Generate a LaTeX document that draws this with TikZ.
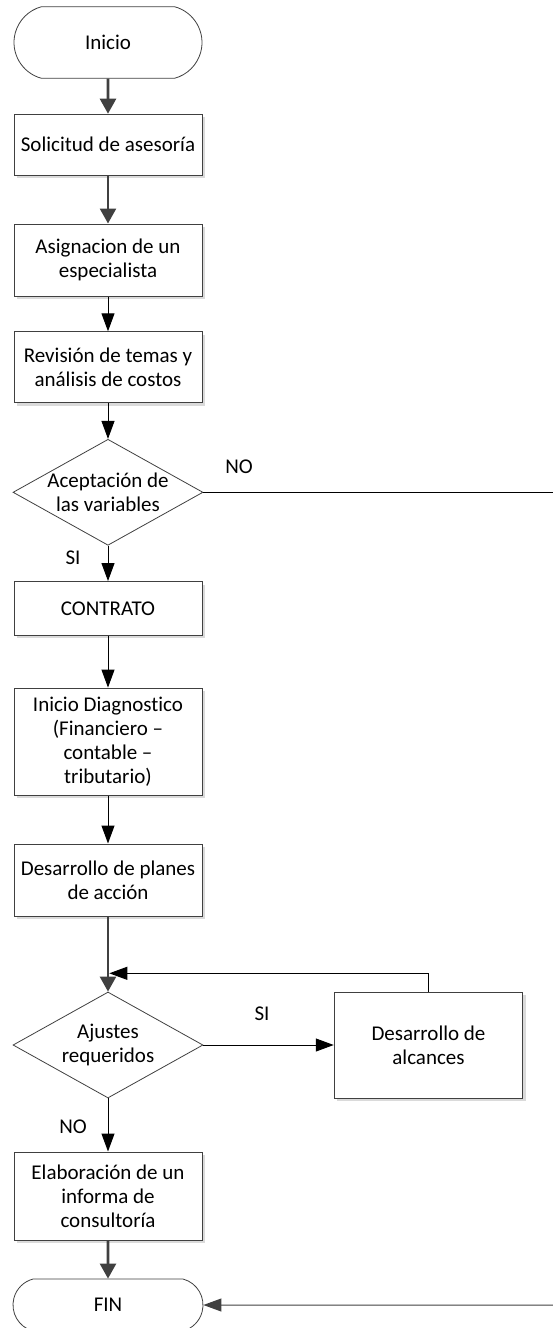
\documentclass[tikz,border=0pt]{standalone}
\usepackage{fontspec}
\setmainfont{Carlito}[Ligatures={TeX,CommonOff}]
\usetikzlibrary{arrows.meta,shapes.geometric,shapes.misc,shadows}
\definecolor{linegray}{RGB}{64,64,64}
\definecolor{shadowgray}{RGB}{218,218,218}

\begin{document}
\begin{tikzpicture}[x=1pt,y=-1pt,
    font=\fontsize{21}{24}\selectfont,
    box/.style={draw=linegray,line width=1pt,fill=white,minimum width=188pt,
      align=center,inner sep=0pt,
      drop shadow={shadow xshift=3pt,shadow yshift=-3pt,fill=shadowgray,opacity=1}},
    term/.style={rounded rectangle,rounded rectangle arc length=150,draw=linegray,
      line width=0.8pt,fill=white,minimum width=188pt,inner sep=0pt},
    decision/.style={diamond,draw=linegray,line width=0.8pt,fill=white,
      minimum width=190pt,minimum height=106pt,inner sep=0pt},
    flow/.style={-{Triangle[length=18pt,width=13pt]},line width=1pt},
    bigflow/.style={-{Triangle[length=15pt,width=16pt]},line width=2.6pt,draw=linegray,fill=linegray},
  ]
  \useasboundingbox (0,0) rectangle (553,1328);

  \node[term,minimum height=71.6pt] (inicio) at (108,42.5) {Inicio};
  \node[box,minimum height=61pt] (solicitud) at (108,144.7) {Solicitud de asesoría};
  \node[box,minimum height=72pt] (asignacion) at (108,260) {Asignacion de un\\especialista};
  \node[box,minimum height=71pt] (revision) at (108,367.3) {Revisión de temas y\\análisis de costos};
  \node[decision] (dec1) at (108,492.3) {};
  \node[align=center] (dec1t) at (dec1) {Aceptación de\\las variables};
  \node[box,minimum height=53.5pt] (contrato) at (108,608.3) {CONTRATO};
  \node[box,minimum height=107pt] (diag) at (108,741.6) {Inicio Diagnostico\\(Financiero –\\contable –\\tributario)};
  \node[box,minimum height=72pt] (planes) at (108,880) {Desarrollo de planes\\de acción};
  \node[decision] (dec2) at (108,1045) {};
  \node[align=center] (dec2t) at (dec2) {Ajustes\\requeridos};
  \node[box,minimum width=188.5pt,minimum height=106pt] (alcances) at (428.5,1045) {Desarrollo de\\alcances};
  \node[box,minimum height=88pt] (elaboracion) at (108,1196) {Elaboración de un\\informa de\\consultoría};
  \node[term,minimum width=190pt,minimum height=52pt] (fin) at (108,1305) {FIN};

  \node (no1) at (239,467) {NO};
  \node (si1) at (73,558) {SI};
  \node (si2) at (262,1014) {SI};
  \node (no2) at (73,1127) {NO};

  \coordinate (noend) at (556,492.3);
  \coordinate (finend) at (556,1305);
  \coordinate (join) at (109.3,973.3);

  \draw[bigflow] (inicio) -- (solicitud);
  \draw[bigflow] (solicitud) -- (asignacion);
  \draw[flow] (asignacion) -- (revision);
  \draw[flow] (revision) -- (dec1);
  \draw[line width=1pt] (dec1) -- (noend);
  \draw[flow] (dec1) -- (contrato);
  \draw[flow] (contrato) -- (diag);
  \draw[flow] (diag) -- (planes);
  \draw[bigflow] (planes) -- (dec2);
  \draw[flow] (dec2) -- (alcances);
  \draw[flow] (alcances.north) |- (join);
  \draw[flow] (dec2) -- (elaboracion);
  \draw[bigflow] (elaboracion) -- (fin);
  \draw[flow,draw=linegray] (finend) -- (fin);
\end{tikzpicture}
\end{document}
